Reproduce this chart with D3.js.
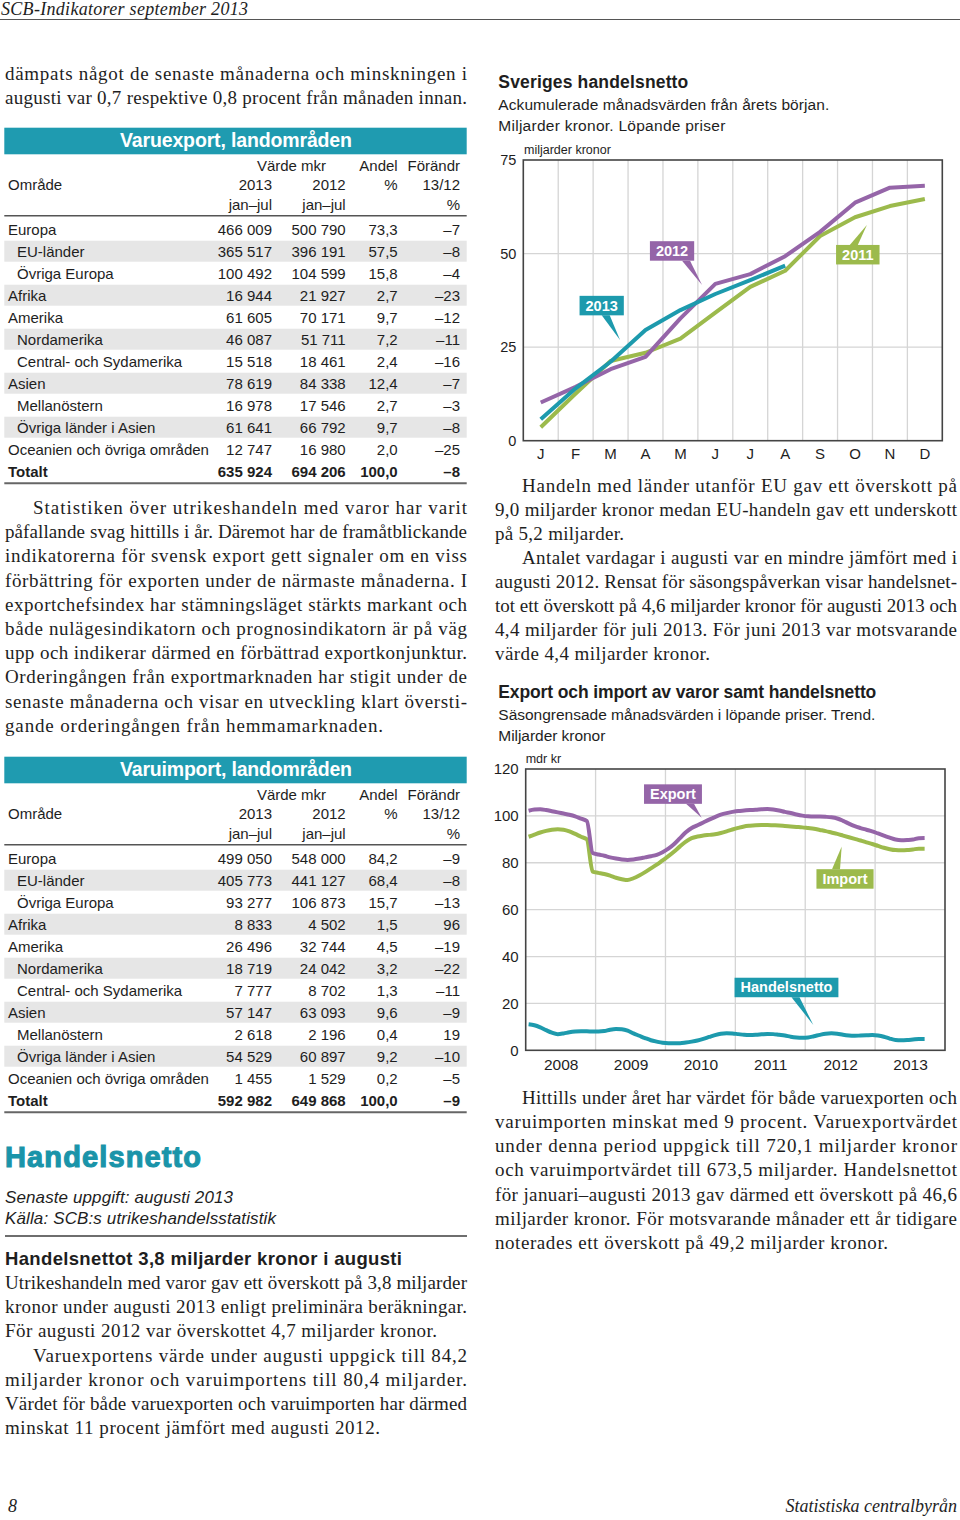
<!DOCTYPE html>
<html><head><meta charset="utf-8">
<script src="https://cdn.jsdelivr.net/npm/d3@7"></script>
<style>body{margin:0;background:#fff}svg{display:block}</style>
</head><body><svg id="page" width="960" height="1520"></svg>
<script>
// ---------------- DATA ----------------
const monthLabels = ["J","F","M","A","M","J","J","A","S","O","N","D"];
const acc2011 = [3.6,12.6,21.3,23.5,27.3,34.2,41.1,45.4,54.7,59.7,62.7,64.6];
const acc2012 = [10.2,14.4,19.1,22.4,32.7,41.9,44.5,49.3,55.8,63.6,67.6,68.1];
const acc2013 = [5.7,14.0,21.1,29.6,34.9,39.2,42.9,46.8];
const accSeriesNames = ["2011","2012","2013"];

const yearLabels = ["2008","2009","2010","2011","2012","2013"];
const exportTrend = [102.2,102.7,102.8,102.5,102.0,101.5,101.0,100.5,99.8,98.8,97.8,
  84.2,83.5,83.0,82.3,81.8,81.4,81.2,81.4,81.8,82.3,82.8,83.4,84.5,
  86.0,88.0,90.5,93.0,94.8,96.0,97.2,98.4,99.5,100.5,101.2,101.7,
  102.1,102.3,102.5,102.6,102.8,102.9,102.7,102.3,101.7,101.2,100.6,100.1,
  99.8,99.7,99.7,99.6,99.4,98.9,97.9,96.7,95.6,94.8,94.1,93.4,
  92.5,91.6,90.7,89.9,89.6,89.7,89.9,90.5,90.6];
const importTrend = [91.1,92.0,92.9,93.6,94.1,94.3,94.1,93.4,92.3,91.1,90.0,
  76.2,75.7,75.2,74.5,73.6,73.0,72.6,73.4,74.6,76.0,77.6,79.2,81.0,
  82.8,84.8,87.0,89.0,90.5,91.2,91.6,91.9,92.2,92.7,93.4,94.2,
  94.9,95.5,95.8,96.0,96.1,96.1,96.0,95.9,95.7,95.5,95.3,95.1,
  94.8,94.5,94.0,93.5,92.9,92.3,91.6,90.9,90.2,89.5,88.7,88.0,
  87.2,86.4,85.8,85.4,85.3,85.4,85.7,86.0,86.0];
const nettoTrend = [11.1,10.7,9.8,8.6,7.5,6.9,7.2,7.7,8.0,8.1,8.1,
  8.0,8.0,8.2,8.8,9.1,9.0,8.4,7.2,6.2,5.2,4.3,3.7,3.2,
  3.0,3.0,3.0,3.3,3.7,4.2,4.9,5.7,6.5,7.1,7.3,7.2,
  6.9,6.6,6.5,6.6,6.8,7.0,6.9,6.6,6.3,5.8,5.5,5.4,
  5.5,6.0,6.6,7.1,7.3,7.1,6.6,6.3,6.2,6.3,6.4,6.5,
  6.3,5.8,5.0,4.4,4.3,4.4,4.6,4.8,4.8];

const regionNames = ["Europa","EU-länder","Övriga Europa","Afrika","Amerika","Nordamerika",
  "Central- och Sydamerika","Asien","Mellanöstern","Övriga länder i Asien",
  "Oceanien och övriga områden","Totalt"];
const regionSub = [0,1,1,0,0,1,1,0,1,1,0,0];
const exp2013 = [466009,365517,100492,16944,61605,46087,15518,78619,16978,61641,12747,635924];
const exp2012 = [500790,396191,104599,21927,70171,51711,18461,84338,17546,66792,16980,694206];
const expShare = [73.3,57.5,15.8,2.7,9.7,7.2,2.4,12.4,2.7,9.7,2.0,100.0];
const expChange = [-7,-8,-4,-23,-12,-11,-16,-7,-3,-8,-25,-8];
const imp2013 = [499050,405773,93277,8833,26496,18719,7777,57147,2618,54529,1455,592982];
const imp2012 = [548000,441127,106873,4502,32744,24042,8702,63093,2196,60897,1529,649868];
const impShare = [84.2,68.4,15.7,1.5,4.5,3.2,1.3,9.6,0.4,9.2,0.2,100.0];
const impChange = [-9,-8,-13,96,-19,-22,-11,-9,19,-10,-5,-9];

// ---------------- STYLE ----------------
const SERIF = "'Liberation Serif','DejaVu Serif',serif";
const SANS = "'Liberation Sans',Arial,sans-serif";
const TEAL = "#1f9bb0", PURPLE = "#9565a8", GREEN = "#9cba4c", LTEAL = "#1d9aad";
const TXT = "#1e1e1e";
const svg = d3.select("#page");

function tline(sel, str, x, y, o = {}) {
  const t = sel.append("text").attr("x", x).attr("y", y).text(str)
    .attr("font-family", o.family || SERIF).attr("font-size", o.size || 19)
    .attr("fill", o.fill || TXT);
  if (o.weight) t.attr("font-weight", o.weight);
  if (o.style) t.attr("font-style", o.style);
  if (o.anchor) t.attr("text-anchor", o.anchor);
  if (o.width) t.attr("textLength", o.width).attr("lengthAdjust", "spacing");
  return t;
}
function paragraph(lines, x, right, indent, y0, dy, lastEnd) {
  lines.forEach((s, i) => {
    const sx = x + (i === 0 ? indent : 0);
    const ex = i === lines.length - 1 ? lastEnd : right;
    tline(svg, s, sx, y0 + i * dy, { width: ex - sx });
  });
}

// ---------------- PAGE HEADER / FOOTER ----------------
tline(svg, "SCB-Indikatorer september 2013", 1, 15, { style: "italic", size: 18, width: 247 });
svg.append("line").attr("x1", 0).attr("x2", 960).attr("y1", 19.5).attr("y2", 19.5).attr("stroke", "#555").attr("stroke-width", 1.2);
tline(svg, "8", 8, 1512, { style: "italic", size: 18 });
tline(svg, "Statistiska centralbyrån", 957, 1512, { style: "italic", size: 18, anchor: "end" });

// ---------------- LEFT COLUMN TEXT ----------------
paragraph(["dämpats något de senaste månaderna och minskningen i",
  "augusti var 0,7 respektive 0,8 procent från månaden innan."], 5, 467, 0, 80, 24, 467);

paragraph(["Statistiken över utrikeshandeln med varor har varit",
  "påfallande svag hittills i år. Däremot har de framåtblickande",
  "indikatorerna för svensk export gett signaler om en viss",
  "förbättring för exporten under de närmaste månaderna. I",
  "exportchefsindex har stämningsläget stärkts markant och",
  "både nulägesindikatorn och prognosindikatorn är på väg",
  "upp och indikerar därmed en förbättrad exportkonjunktur.",
  "Orderingången från exportmarknaden har stigit under de",
  "senaste månaderna och visar en utveckling klart översti-",
  "gande orderingången från hemmamarknaden."], 5, 467, 28, 514, 24.2, 383);

// Handelsnetto section
tline(svg, "Handelsnetto", 5, 1167, { family: SANS, weight: "bold", size: 29, fill: "#1a94a9", width: 196 })
  .attr("stroke", "#1a94a9").attr("stroke-width", 1.1);
tline(svg, "Senaste uppgift: augusti 2013", 5, 1202.5, { family: SANS, style: "italic", size: 17, width: 228 });
tline(svg, "Källa: SCB:s utrikeshandelsstatistik", 5, 1223.5, { family: SANS, style: "italic", size: 17, width: 271 });
svg.append("line").attr("x1", 5).attr("x2", 467).attr("y1", 1236).attr("y2", 1236).attr("stroke", "#6e6e6e").attr("stroke-width", 2);
tline(svg, "Handelsnettot 3,8 miljarder kronor i augusti", 5, 1265, { family: SANS, weight: "bold", size: 18.5, width: 397 });
paragraph(["Utrikeshandeln med varor gav ett överskott på 3,8 miljarder",
  "kronor under augusti 2013 enligt preliminära beräkningar.",
  "För augusti 2012 var överskottet 4,7 miljarder kronor."], 5, 467, 0, 1289, 24.2, 437);
paragraph(["Varuexportens värde under augusti uppgick till 84,2",
  "miljarder kronor och varuimportens till 80,4 miljarder.",
  "Värdet för både varuexporten och varuimporten har därmed",
  "minskat 11 procent jämfört med augusti 2012."], 5, 467, 28, 1289 + 3 * 24.2, 24.2, 380);

// ---------------- RIGHT COLUMN TEXT ----------------
paragraph(["Handeln med länder utanför EU gav ett överskott på",
  "9,0 miljarder kronor medan EU-handeln gav ett underskott",
  "på 5,2 miljarder."], 495, 957, 27, 492, 24, 624);
paragraph(["Antalet vardagar i augusti var en mindre jämfört med i",
  "augusti 2012. Rensat för säsongspåverkan visar handelsnet-",
  "tot ett överskott på 4,6 miljarder kronor för augusti 2013 och",
  "4,4 miljarder för juli 2013. För juni 2013 var motsvarande",
  "värde 4,4 miljarder kronor."], 495, 957, 27, 492 + 3 * 24, 24, 710);
paragraph(["Hittills under året har värdet för både varuexporten och",
  "varuimporten minskat med 9 procent. Varuexportvärdet",
  "under denna period uppgick till 720,1 miljarder kronor",
  "och varuimportvärdet till 673,5 miljarder. Handelsnettot",
  "för januari–augusti 2013 gav därmed ett överskott på 46,6",
  "miljarder kronor. För motsvarande månader ett år tidigare",
  "noterades ett överskott på 49,2 miljarder kronor."], 495, 957, 27, 1104, 24.15, 888);

// ---------------- TABLES ----------------
const fmtThousands = v => d3.format(",")(v).replace(/,/g, " ");
const fmtShare = v => v.toFixed(1).replace(".", ",");
const fmtChange = v => v < 0 ? "\u2013" + (-v) : String(v);

function drawTable(shift, title, v13, v12, share, change) {
  const FS = 15;
  const g = svg.append("g").attr("transform", `translate(0,${shift})`);
  g.append("rect").attr("x", 4.3).attr("y", 127.7).attr("width", 462.4).attr("height", 26.6).attr("fill", TEAL);
  tline(g, title, 236, 147.3, { family: SANS, weight: "bold", size: 19.5, fill: "#fff", anchor: "middle", width: 232 });
  const cols = [272, 345.7, 397.7, 460];
  const hs = { family: SANS, size: FS, anchor: "end" };
  tline(g, "Värde mkr", 291.5, 171, { family: SANS, size: FS, anchor: "middle" });
  tline(g, "Andel", cols[2], 171, hs);
  tline(g, "Förändr", cols[3], 171, hs);
  tline(g, "Område", 8, 190.2, { family: SANS, size: FS });
  tline(g, "2013", cols[0], 190.2, hs);
  tline(g, "2012", cols[1], 190.2, hs);
  tline(g, "%", cols[2], 190.2, hs);
  tline(g, "13/12", cols[3], 190.2, hs);
  tline(g, "jan\u2013jul", cols[0], 210, hs);
  tline(g, "jan\u2013jul", cols[1], 210, hs);
  tline(g, "%", cols[3], 210, hs);
  g.append("line").attr("x1", 4.3).attr("x2", 466.7).attr("y1", 215.7).attr("y2", 215.7).attr("stroke", "#555").attr("stroke-width", 1.6);
  const rowY = d3.scaleLinear().domain([0, 1]).range([229.3, 251.3]);
  regionNames.forEach((name, i) => {
    const c = rowY(i);
    if (i % 2 === 1 && i < 11) {
      g.append("rect").attr("x", 4.3).attr("y", c - 10.6).attr("width", 462.4).attr("height", 21).attr("fill", "#e6e6e6");
    }
  });
  regionNames.forEach((name, i) => {
    const c = rowY(i) + 5.3;
    const bold = i === 11 ? "bold" : null;
    const o = { family: SANS, size: FS, weight: bold };
    tline(g, name, regionSub[i] ? 17 : 8, c, o);
    tline(g, fmtThousands(v13[i]), cols[0], c, { ...o, anchor: "end" });
    tline(g, fmtThousands(v12[i]), cols[1], c, { ...o, anchor: "end" });
    tline(g, fmtShare(share[i]), cols[2], c, { ...o, anchor: "end" });
    tline(g, fmtChange(change[i]), cols[3], c, { ...o, anchor: "end" });
  });
  g.append("line").attr("x1", 4.3).attr("x2", 466.7).attr("y1", 483.3).attr("y2", 483.3).attr("stroke", "#666").attr("stroke-width", 2);
}
drawTable(0, "Varuexport, landområden", exp2013, exp2012, expShare, expChange);
drawTable(629, "Varuimport, landområden", imp2013, imp2012, impShare, impChange);

// ---------------- tag helper ----------------
function tag(g, text, cx, cy, color, baseX, baseY, tipX, tipY) {
  const t = g.append("text").attr("x", cx).attr("y", cy + 5).attr("text-anchor", "middle")
    .attr("font-family", SANS).attr("font-weight", "bold").attr("font-size", 14.5).attr("fill", "#fff").text(text);
  const w = t.node().getComputedTextLength() + 12, h = 19.5;
  g.insert("path", () => t.node())
    .attr("d", `M${baseX - 4},${baseY} L${baseX + 4},${baseY} L${tipX},${tipY} Z`).attr("fill", color);
  g.insert("rect", () => t.node()).attr("x", cx - w / 2).attr("y", cy - h / 2).attr("width", w).attr("height", h).attr("fill", color);
}

// ---------------- CHART 1 ----------------
(function () {
  const g = svg.append("g");
  tline(g, "Sveriges handelsnetto", 498.3, 87.7, { family: SANS, weight: "bold", size: 17.5, width: 190 });
  tline(g, "Ackumulerade månadsvärden från årets början.", 498.3, 110, { family: SANS, size: 15.5, width: 331 });
  tline(g, "Miljarder kronor. Löpande priser", 498.3, 131, { family: SANS, size: 15.5, width: 227 });
  tline(g, "miljarder kronor", 524, 154, { family: SANS, size: 12.5 });
  const L = 523.3, R = 942.3, T = 160, B = 440.7;
  const x = d3.scaleBand().domain(d3.range(12)).range([L, R]);
  const xl = d3.scaleLinear().domain([0, 12]).range([L, R]);
  const y = d3.scaleLinear().domain([0, 75]).range([B, T]);
  const grid = g.append("g").attr("stroke", "#d5d5d5").attr("stroke-width", 1.3);
  d3.range(1, 12).forEach(i => grid.append("line").attr("x1", x(i)).attr("x2", x(i)).attr("y1", T).attr("y2", B));
  [25, 50].forEach(v => grid.append("line").attr("x1", L).attr("x2", R).attr("y1", y(v)).attr("y2", y(v)));
  const ya = g.append("g").attr("transform", `translate(${L},0)`)
    .call(d3.axisLeft(y).tickValues([0, 25, 50, 75]).tickSize(0).tickPadding(7));
  ya.select(".domain").remove();
  ya.selectAll("text").attr("font-family", SANS).attr("font-size", 14.5).attr("fill", TXT);
  const xa = g.append("g").attr("transform", `translate(0,${B})`)
    .call(d3.axisBottom(x).tickSize(0).tickPadding(8).tickFormat(i => monthLabels[i]));
  xa.select(".domain").remove();
  xa.selectAll("text").attr("font-family", SANS).attr("font-size", 15).attr("fill", TXT);
  const line = d3.line().x((d, i) => x(i) + x.bandwidth() / 2).y(d => y(d));
  [[acc2011, GREEN], [acc2012, PURPLE], [acc2013, LTEAL]].forEach(([d, c]) =>
    g.append("path").datum(d).attr("d", line).attr("fill", "none").attr("stroke", c)
      .attr("stroke-width", 4).attr("stroke-linejoin", "round").attr("stroke-linecap", "butt"));
  g.append("rect").attr("x", L).attr("y", T).attr("width", R - L).attr("height", B - T)
    .attr("fill", "none").attr("stroke", "#444").attr("stroke-width", 1.6);
  tag(g, accSeriesNames[2], xl(2.245), y(36.1), LTEAL, xl(2.245) + 4, y(36.1) + 9.7, xl(2.77), y(26.9));
  tag(g, accSeriesNames[1], xl(4.26), y(50.7), PURPLE, xl(4.26) + 14, y(50.7) + 9.7, xl(5.12), y(41.6));
  tag(g, accSeriesNames[0], xl(9.58), y(49.7), GREEN, xl(9.58) - 4, y(49.7) - 9.7, xl(9.84), y(57.6));
})();

// ---------------- CHART 2 ----------------
(function () {
  const g = svg.append("g");
  tline(g, "Export och import av varor samt handelsnetto", 498.3, 698.3, { family: SANS, weight: "bold", size: 17.5, width: 378 });
  tline(g, "Säsongrensade månadsvärden i löpande priser. Trend.", 498.3, 720, { family: SANS, size: 15.5, width: 377 });
  tline(g, "Miljarder kronor", 498.3, 741, { family: SANS, size: 15.5, width: 107 });
  tline(g, "mdr kr", 525.7, 763.3, { family: SANS, size: 12.5 });
  const L = 525.7, R = 945, T = 769, B = 1050.3;
  const x = d3.scaleLinear().domain([0, 72]).range([L, R]);
  const y = d3.scaleLinear().domain([0, 120]).range([B, T]);
  const grid = g.append("g").attr("stroke", "#d5d5d5").attr("stroke-width", 1.3);
  d3.range(1, 6).forEach(k => grid.append("line").attr("x1", x(12 * k)).attr("x2", x(12 * k)).attr("y1", T).attr("y2", B));
  [20, 40, 60, 80, 100].forEach(v => grid.append("line").attr("x1", L).attr("x2", R).attr("y1", y(v)).attr("y2", y(v)));
  const ya = g.append("g").attr("transform", `translate(${L},0)`)
    .call(d3.axisLeft(y).tickValues([0, 20, 40, 60, 80, 100, 120]).tickSize(0).tickPadding(7));
  ya.select(".domain").remove();
  ya.selectAll("text").attr("font-family", SANS).attr("font-size", 15).attr("fill", TXT);
  const xa = g.append("g").attr("transform", `translate(0,${B})`)
    .call(d3.axisBottom(x).tickValues(yearLabels.map((d, k) => 12 * k + 6)).tickSize(0).tickPadding(9)
      .tickFormat((d) => yearLabels[(d - 6) / 12]));
  xa.select(".domain").remove();
  xa.selectAll("text").attr("font-family", SANS).attr("font-size", 15.5).attr("fill", TXT);
  const line = d3.line().x((d, i) => x(i + 0.5)).y(d => y(d)).curve(d3.curveMonotoneX);
  [[importTrend, GREEN], [exportTrend, PURPLE], [nettoTrend, LTEAL]].forEach(([d, c]) =>
    g.append("path").datum(d).attr("d", line).attr("fill", "none").attr("stroke", c)
      .attr("stroke-width", 4).attr("stroke-linejoin", "round"));
  g.append("rect").attr("x", L).attr("y", T).attr("width", R - L).attr("height", B - T)
    .attr("fill", "none").attr("stroke", "#444").attr("stroke-width", 1.6);
  tag(g, "Export", x(25.29), y(109.3), PURPLE, x(25.29) + 17, y(109.3) + 9.7, x(30.22), y(99.2));
  tag(g, "Import", x(54.83), y(73.1), GREEN, x(54.83) - 9, y(73.1) - 9.7, x(54.26), y(86.9));
  tag(g, "Handelsnetto", x(44.78), y(26.8), LTEAL, x(44.78) + 9, y(26.8) + 9.7, x(49.39), y(10.8));
})();
</script>
</body></html>
